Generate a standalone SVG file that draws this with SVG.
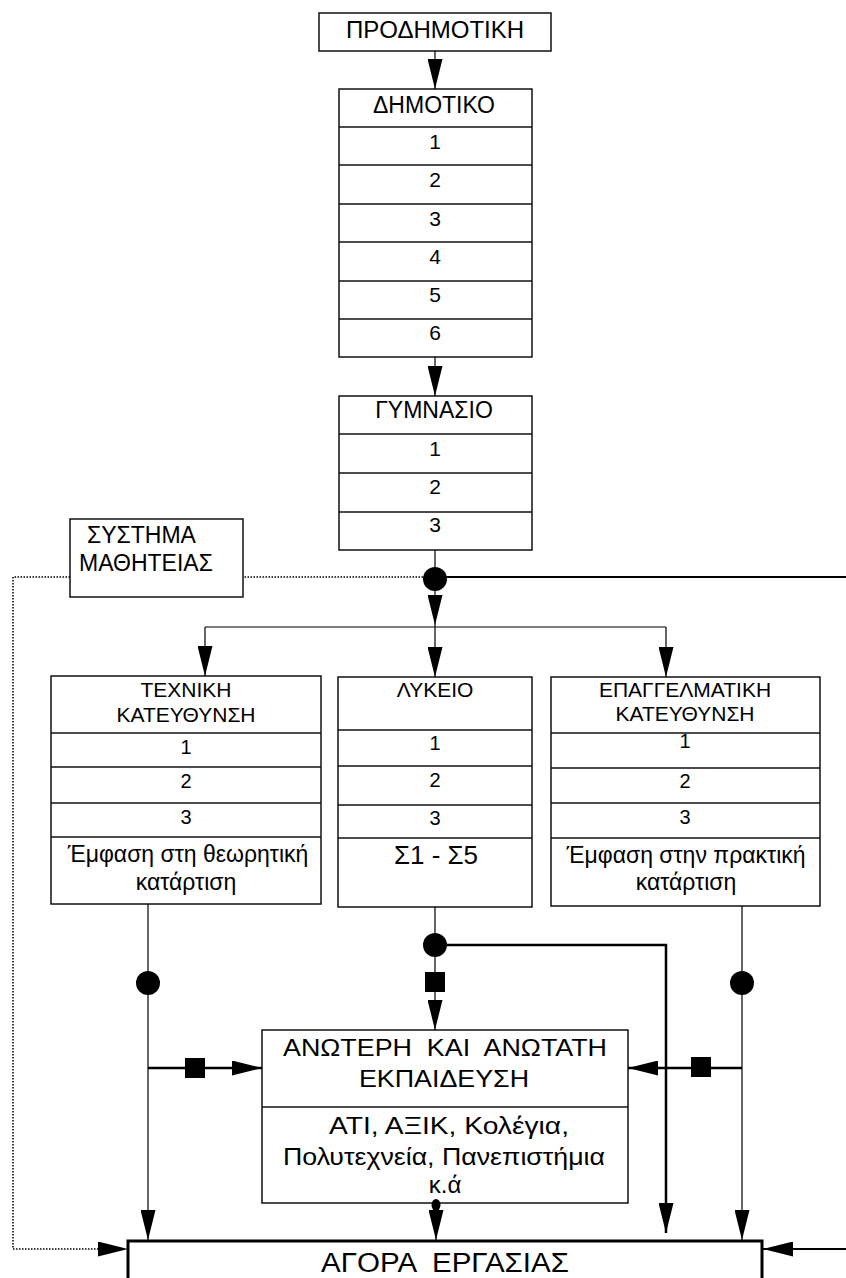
<svg xmlns="http://www.w3.org/2000/svg" width="846" height="1278" viewBox="0 0 846 1278">
<style>
.box{fill:#fff;stroke:#111;stroke-width:1.5}
.div{stroke:#111;stroke-width:1.5}
text{font-family:"Liberation Sans",Arial,sans-serif;fill:#000;text-anchor:middle}
.h23{font-size:23px}
.h21{font-size:21px}
.d21{font-size:21px}
.d20{font-size:20px}
.thin{fill:none;stroke:#000;stroke-width:1.2}
.thick{fill:none;stroke:#000;stroke-width:2.5}
.med{fill:none;stroke:#000;stroke-width:2}
.dot{fill:none;stroke:#000;stroke-width:1.5;stroke-dasharray:1.5 1.5}
.blk{fill:#000}
</style>
<defs>
<marker id="arr" markerUnits="userSpaceOnUse" markerWidth="30" markerHeight="15" refX="30" refY="7.5" orient="auto">
<path d="M0,0 L30,7.5 L0,15 Z" fill="#000" stroke="none"/>
</marker>
</defs>

<g id="prodimotiki">
<rect class="box" x="319" y="13" width="232" height="38"/>
<text x="435" y="38" style="font-size:24px">ΠΡΟΔΗΜΟΤΙΚΗ</text>
</g>

<g id="dimotiko">
<rect class="box" x="339" y="89" width="193" height="268"/>
<line class="div" x1="339" y1="127" x2="532" y2="127"/>
<line class="div" x1="339" y1="165" x2="532" y2="165"/>
<line class="div" x1="339" y1="204" x2="532" y2="204"/>
<line class="div" x1="339" y1="242" x2="532" y2="242"/>
<line class="div" x1="339" y1="281" x2="532" y2="281"/>
<line class="div" x1="339" y1="319" x2="532" y2="319"/>
<text class="h23" x="434" y="113">ΔΗΜΟΤΙΚΟ</text>
<text class="d21" x="435" y="149">1</text>
<text class="d21" x="435" y="187">2</text>
<text class="d21" x="435" y="226">3</text>
<text class="d21" x="435" y="264">4</text>
<text class="d21" x="435" y="302">5</text>
<text class="d21" x="435" y="340">6</text>
</g>

<g id="gymnasio">
<rect class="box" x="339" y="396" width="193" height="154"/>
<line class="div" x1="339" y1="434" x2="532" y2="434"/>
<line class="div" x1="339" y1="473" x2="532" y2="473"/>
<line class="div" x1="339" y1="512" x2="532" y2="512"/>
<text class="h23" x="434" y="418">ΓΥΜΝΑΣΙΟ</text>
<text class="d21" x="435" y="456">1</text>
<text class="d21" x="435" y="494">2</text>
<text class="d21" x="435" y="532">3</text>
</g>

<g id="mathiteia">
<rect class="box" x="70" y="519" width="173" height="78"/>
<text class="h23" x="87" y="543" style="text-anchor:start">ΣΥΣΤΗΜΑ</text>
<text class="h23" x="79" y="571" style="text-anchor:start">ΜΑΘΗΤΕΙΑΣ</text>
</g>

<g id="texniki">
<rect class="box" x="51" y="676" width="270" height="228"/>
<line class="div" x1="51" y1="733" x2="321" y2="733"/>
<line class="div" x1="51" y1="767" x2="321" y2="767"/>
<line class="div" x1="51" y1="803" x2="321" y2="803"/>
<line class="div" x1="51" y1="837" x2="321" y2="837"/>
<text class="h21" x="186" y="697">ΤΕΧΝΙΚΗ</text>
<text class="h21" x="186" y="722">ΚΑΤΕΥΘΥΝΣΗ</text>
<text class="d20" x="186" y="754">1</text>
<text class="d20" x="186" y="788">2</text>
<text class="d20" x="186" y="824">3</text>
<text class="h23" x="188" y="862">Έμφαση στη θεωρητική</text>
<text class="h23" x="186" y="890">κατάρτιση</text>
</g>

<g id="lykeio">
<rect class="box" x="338" y="677" width="194" height="230"/>
<line class="div" x1="338" y1="730" x2="532" y2="730"/>
<line class="div" x1="338" y1="766" x2="532" y2="766"/>
<line class="div" x1="338" y1="805" x2="532" y2="805"/>
<line class="div" x1="338" y1="838" x2="532" y2="838"/>
<text class="h21" x="435" y="697">ΛΥΚΕΙΟ</text>
<text class="d20" x="435" y="750">1</text>
<text class="d20" x="435" y="787">2</text>
<text class="d20" x="435" y="825">3</text>
<text x="436" y="864" style="font-size:26px">Σ1 - Σ5</text>
</g>

<g id="epaggelmatiki">
<rect class="box" x="551" y="677" width="269" height="229"/>
<line class="div" x1="551" y1="733" x2="820" y2="733"/>
<line class="div" x1="551" y1="768" x2="820" y2="768"/>
<line class="div" x1="551" y1="803" x2="820" y2="803"/>
<line class="div" x1="551" y1="838" x2="820" y2="838"/>
<text class="h21" x="685" y="697">ΕΠΑΓΓΕΛΜΑΤΙΚΗ</text>
<text class="h21" x="685" y="721">ΚΑΤΕΥΘΥΝΣΗ</text>
<text class="d20" x="685" y="748">1</text>
<text class="d20" x="685" y="788">2</text>
<text class="d20" x="685" y="824">3</text>
<text class="h23" x="686" y="863">Έμφαση στην πρακτική</text>
<text class="h23" x="686" y="890">κατάρτιση</text>
</g>

<g id="anoteri">
<rect class="box" x="262" y="1030" width="366" height="173"/>
<line class="div" x1="262" y1="1107" x2="628" y2="1107"/>
<text x="445" y="1056" style="font-size:24px" xml:space="preserve" textLength="324" lengthAdjust="spacingAndGlyphs">ΑΝΩΤΕΡΗ  ΚΑΙ  ΑΝΩΤΑΤΗ</text>
<text x="444" y="1087" style="font-size:24px" textLength="170" lengthAdjust="spacingAndGlyphs">ΕΚΠΑΙΔΕΥΣΗ</text>
<text x="449" y="1134" style="font-size:24px" textLength="240" lengthAdjust="spacingAndGlyphs">ΑΤΙ, ΑΞΙΚ, Κολέγια,</text>
<text x="444" y="1165" style="font-size:24px" textLength="322" lengthAdjust="spacingAndGlyphs">Πολυτεχνεία, Πανεπιστήμια</text>
<text x="445" y="1193" style="font-size:24px">κ.ά</text>
</g>

<g id="agora">
<rect x="128" y="1241" width="634" height="60" fill="#fff" stroke="#000" stroke-width="3"/>
<text x="445" y="1272" style="font-size:27px" xml:space="preserve" textLength="248" lengthAdjust="spacingAndGlyphs">ΑΓΟΡΑ  ΕΡΓΑΣΙΑΣ</text>
</g>

<g id="connectors">
<line class="thin" x1="435" y1="51" x2="435" y2="89" marker-end="url(#arr)"/>
<line class="thin" x1="435" y1="357" x2="435" y2="396" marker-end="url(#arr)"/>
<line class="thin" x1="435" y1="550" x2="435" y2="625" marker-end="url(#arr)"/>
<line class="thin" x1="435" y1="625" x2="435" y2="677" marker-end="url(#arr)"/>
<line class="thin" x1="205" y1="627" x2="666" y2="627"/>
<line class="thin" x1="205" y1="627" x2="205" y2="676" marker-end="url(#arr)"/>
<line class="thin" x1="666" y1="627" x2="666" y2="677" marker-end="url(#arr)"/>
<line class="med" x1="435" y1="577" x2="846" y2="577"/>
<path class="dot" d="M435,577 H243"/>
<path class="dot" d="M70,577 H13 V1249 H99"/>
<line x1="99" y1="1249" x2="128" y2="1249" stroke="none" marker-end="url(#arr)"/>
<circle class="blk" cx="435" cy="579" r="12"/>

<line class="thin" x1="148" y1="904" x2="148" y2="1240" marker-end="url(#arr)"/>
<circle class="blk" cx="148" cy="983" r="12"/>
<line class="thick" x1="148" y1="1068" x2="262" y2="1068" marker-end="url(#arr)"/>
<rect class="blk" x="185" y="1058" width="20" height="20"/>

<line class="thin" x1="435" y1="907" x2="435" y2="1030" marker-end="url(#arr)"/>
<path class="thick" d="M435,945 H666 V1233" marker-end="url(#arr)"/>
<circle class="blk" cx="435" cy="945" r="12"/>
<rect class="blk" x="425" y="972" width="20" height="20"/>

<line class="thin" x1="742" y1="906" x2="742" y2="1240" marker-end="url(#arr)"/>
<circle class="blk" cx="742" cy="983" r="12"/>
<line class="thick" x1="742" y1="1068" x2="628" y2="1068" marker-end="url(#arr)"/>
<rect class="blk" x="691" y="1057" width="20" height="20"/>

<line class="thin" x1="436" y1="1203" x2="436" y2="1240" marker-end="url(#arr)"/>
<ellipse class="blk" cx="436" cy="1205" rx="4.5" ry="6"/>

<line class="med" x1="846" y1="1249" x2="763" y2="1249" marker-end="url(#arr)"/>
</g>
</svg>
